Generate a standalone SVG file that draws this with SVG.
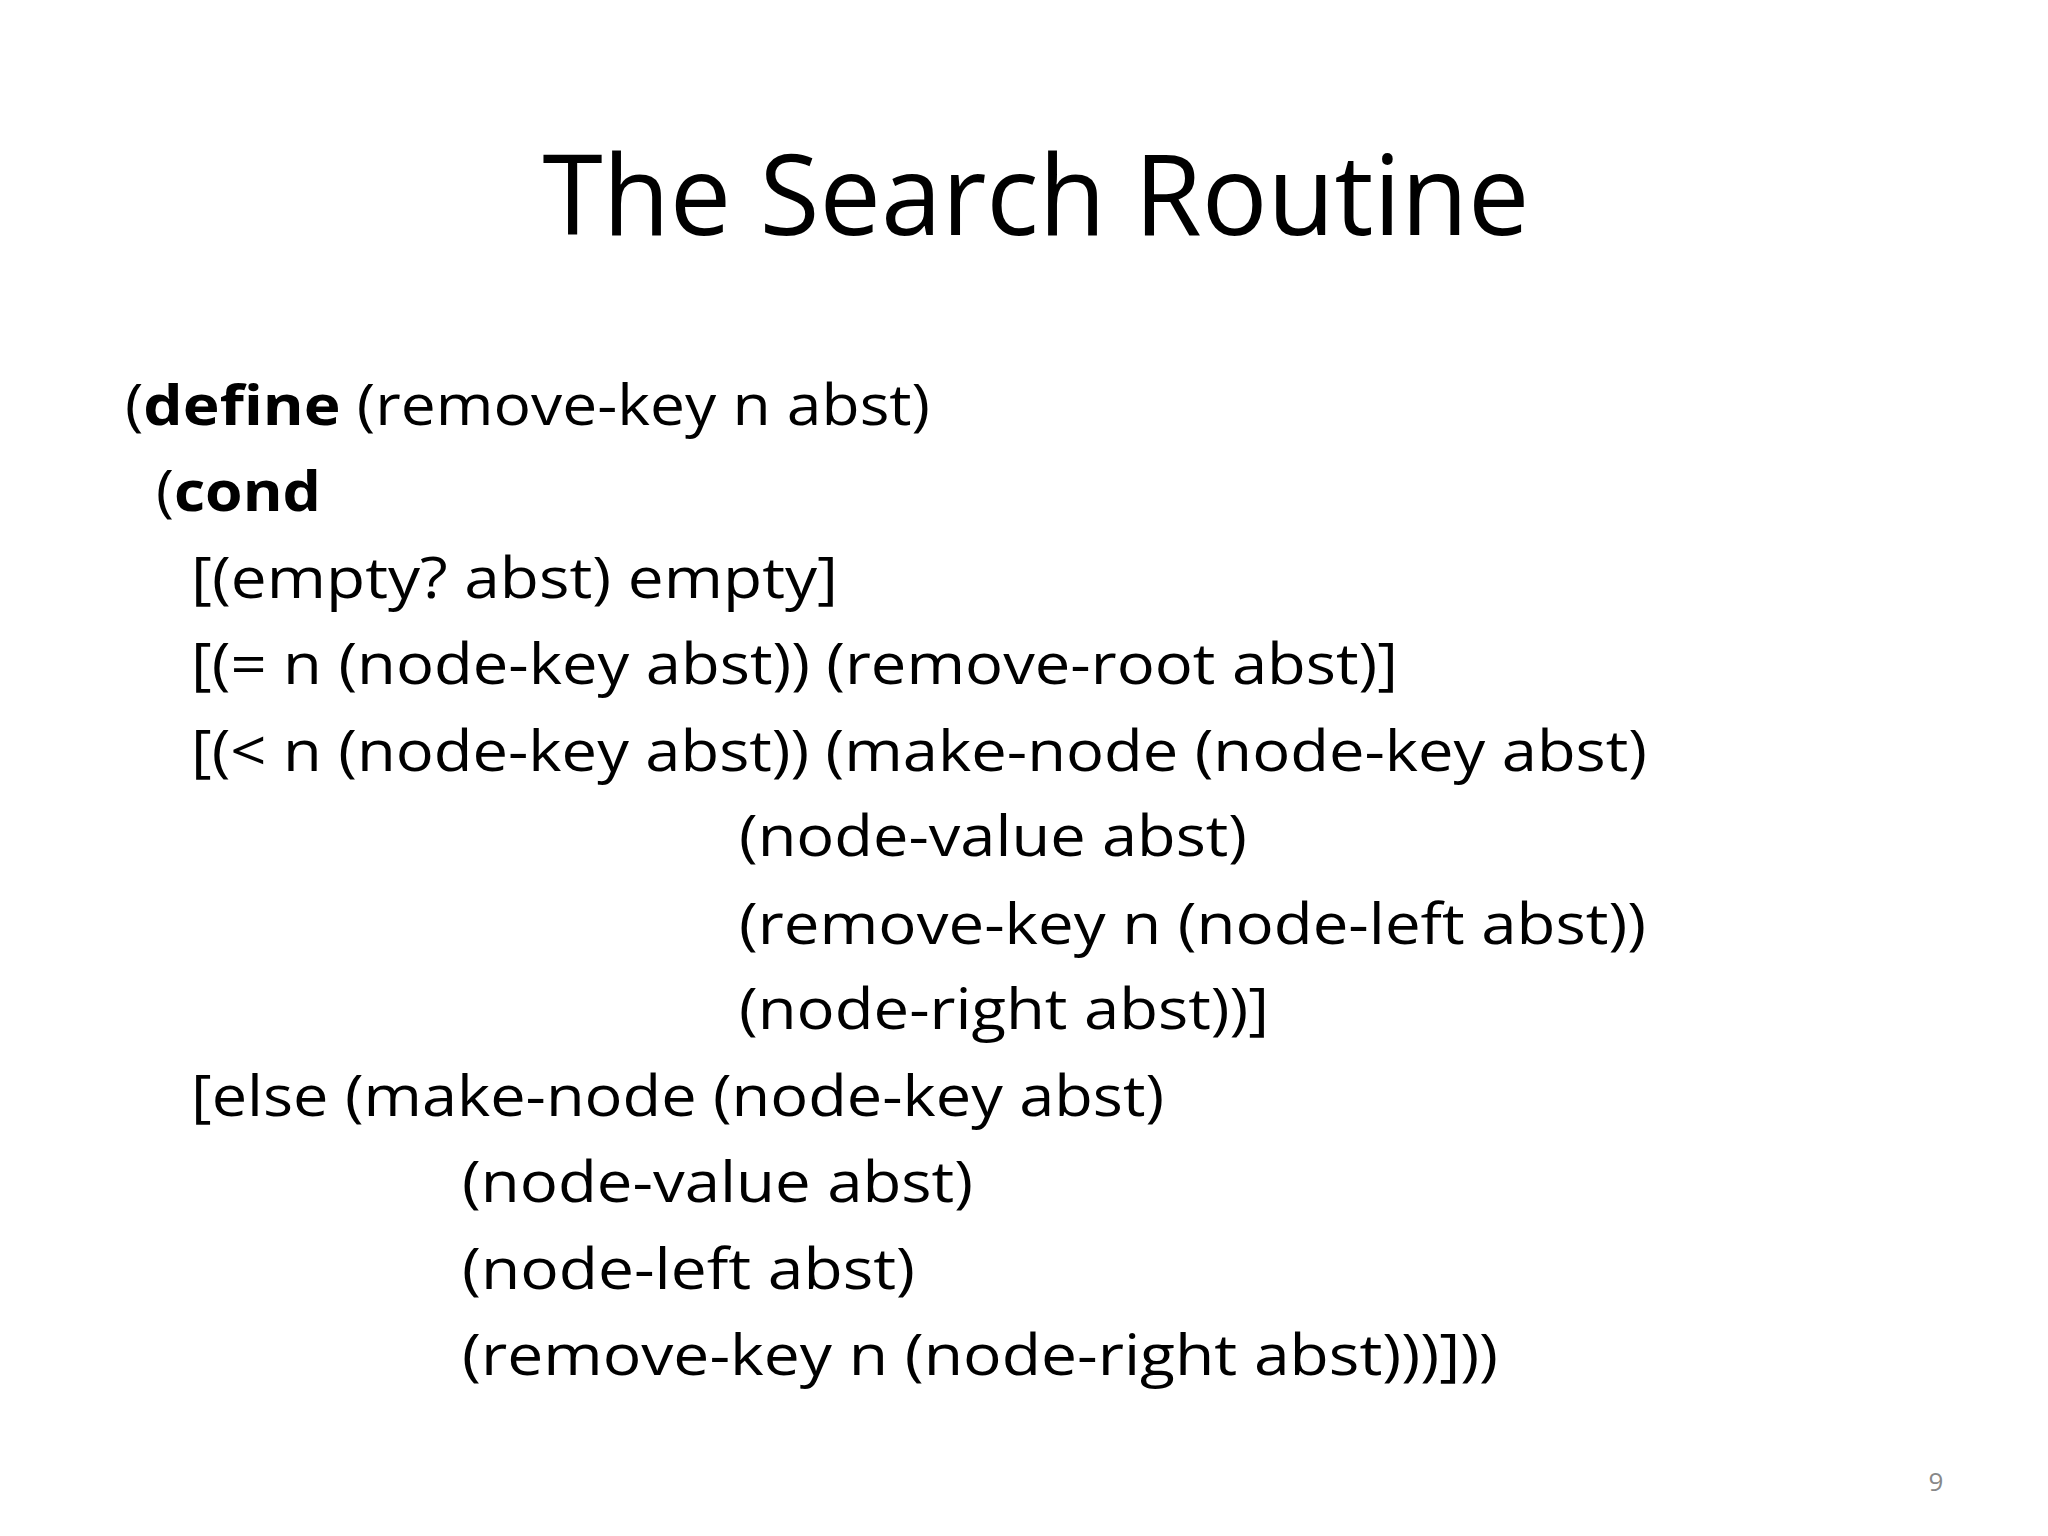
<svg xmlns="http://www.w3.org/2000/svg" width="2048" height="1536" viewBox="0 0 2048 1536">
<style>
.t{font-family:"Open Sans","Noto Sans",sans-serif;fill:#000}
.c{font-family:"Open Sans","Noto Sans",sans-serif;font-size:56px;fill:#000}
.b{font-weight:bold}
</style>
<rect width="2048" height="1536" fill="#fff"/>
<text class="t" x="1036" y="235" font-size="112" text-anchor="middle" textLength="987" lengthAdjust="spacingAndGlyphs">The Search Routine</text>
<g id="code">
<text class="c" x="125" y="425" textLength="805" lengthAdjust="spacingAndGlyphs">(<tspan class="b">define</tspan> (remove-key n abst)</text>
<text class="c" x="156" y="511" textLength="165" lengthAdjust="spacingAndGlyphs">(<tspan class="b">cond</tspan></text>
<text class="c" x="191" y="598" textLength="647" lengthAdjust="spacingAndGlyphs">[(empty? abst) empty]</text>
<text class="c" x="191" y="684" textLength="1207" lengthAdjust="spacingAndGlyphs">[(= n (node-key abst)) (remove-root abst)]</text>
<text class="c" x="191" y="771" textLength="1456" lengthAdjust="spacingAndGlyphs">[(&lt; n (node-key abst)) (make-node (node-key abst)</text>
<text class="c" x="739" y="856" textLength="508" lengthAdjust="spacingAndGlyphs">(node-value abst)</text>
<text class="c" x="739" y="944" textLength="907" lengthAdjust="spacingAndGlyphs">(remove-key n (node-left abst))</text>
<text class="c" x="739" y="1029" textLength="530" lengthAdjust="spacingAndGlyphs">(node-right abst))]</text>
<text class="c" x="191" y="1116" textLength="973" lengthAdjust="spacingAndGlyphs">[else (make-node (node-key abst)</text>
<text class="c" x="462" y="1202" textLength="511" lengthAdjust="spacingAndGlyphs">(node-value abst)</text>
<text class="c" x="462" y="1289" textLength="453" lengthAdjust="spacingAndGlyphs">(node-left abst)</text>
<text class="c" x="462" y="1375" textLength="1036" lengthAdjust="spacingAndGlyphs">(remove-key n (node-right abst)))]))</text>
</g>
<text class="t" x="1936" y="1491" font-size="26" fill="#888" style="fill:#888" text-anchor="middle">9</text>
</svg>
